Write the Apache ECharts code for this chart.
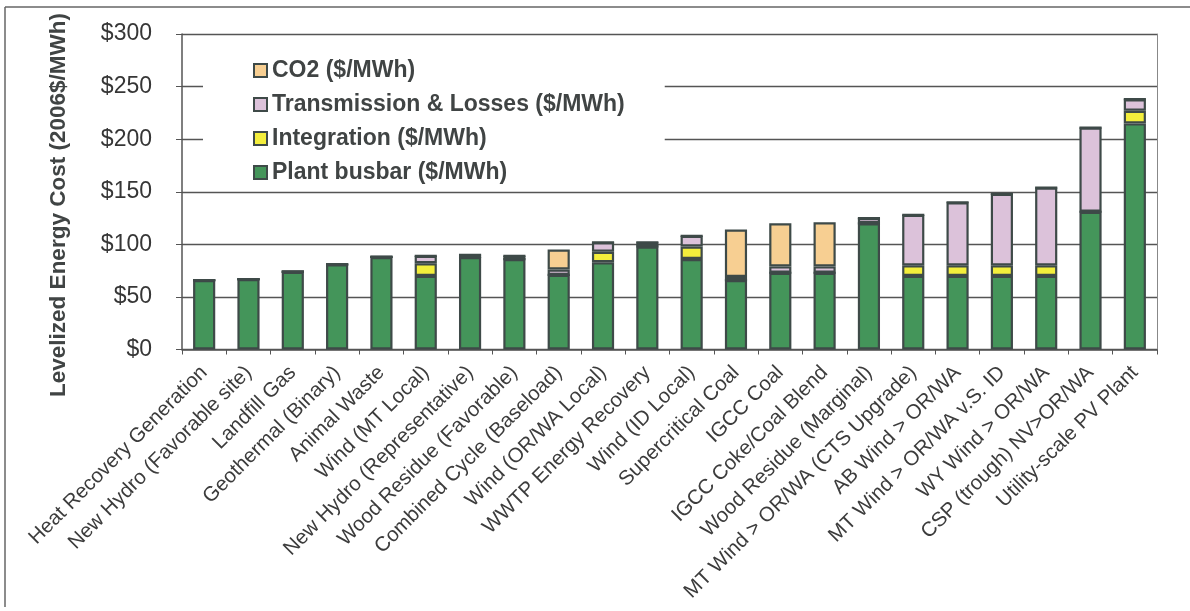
<!DOCTYPE html>
<html>
<head>
<meta charset="utf-8">
<script src="https://cdn.jsdelivr.net/npm/echarts@6/dist/echarts.min.js"></script>
<style>
html,body{margin:0;padding:0;background:#fff;}
#chart{width:1190px;height:611px;}
</style>
</head>
<body>
<div id="chart"></div>
<script>
var categories = [
  'Heat Recovery Generation',
  'New Hydro (Favorable site)',
  'Landfill Gas',
  'Geothermal (Binary)',
  'Animal Waste',
  'Wind (MT Local)',
  'New Hydro (Representative)',
  'Wood Residue (Favorable)',
  'Combined Cycle (Baseload)',
  'Wind (OR/WA Local)',
  'WWTP Energy Recovery',
  'Wind (ID Local)',
  'Supercritical Coal',
  'IGCC Coal',
  'IGCC Coke/Coal Blend',
  'Wood Residue (Marginal)',
  'MT Wind > OR/WA (CTS Upgrade)',
  'AB Wind > OR/WA',
  'MT Wind > OR/WA v.S. ID',
  'WY Wind > OR/WA',
  'CSP (trough) NV>OR/WA',
  'Utility-scale PV Plant'
];
var plantBusbar  = [66, 67, 74, 81, 88, 70, 88, 86, 71, 83, 98, 86, 66, 73, 73, 120, 70, 70, 70, 70, 131, 215];
var integration  = [0, 0, 0, 0, 0, 12, 0, 0, 0, 10, 0, 12, 0, 0, 0, 0, 10, 10, 10, 10, 0, 12];
var transmission = [0, 0, 0, 0, 0, 7, 2, 3, 5, 9, 4, 10, 3, 6, 6, 5, 48, 60, 68, 74, 80, 11];
var co2          = [0, 0, 0, 0, 0, 0, 0, 0, 19, 0, 0, 0, 45, 41, 42, 0, 0, 0, 0, 0, 0, 0];
var yTicks = [0, 50, 100, 150, 200, 250, 300];
var yTitle = 'Levelized Energy Cost (2006$/MWh)';

var seriesNames = ['Plant busbar ($/MWh)', 'Integration ($/MWh)', 'Transmission & Losses ($/MWh)', 'CO2 ($/MWh)'];
var seriesData = [plantBusbar, integration, transmission, co2];
var seriesColors = ['#44955a', '#f3ee3c', '#dcc2da', '#f7cf92'];

var chart = echarts.init(document.getElementById('chart'));
var series = seriesNames.map(function (n, i) {
  return {
    name: n,
    type: 'bar',
    stack: 'total',
    barWidth: '50%',
    data: seriesData[i],
    itemStyle: { color: seriesColors[i], borderColor: '#3e4a48', borderWidth: 2.2 },
    emphasis: { disabled: true }
  };
});

chart.setOption({
  animation: false,
  backgroundColor: '#ffffff',
  textStyle: { fontFamily: 'Liberation Sans, Arial, sans-serif' },
  grid: { left: 182, right: 33, top: 34, bottom: 261.5, containLabel: false },
  legend: {
    data: ['CO2 ($/MWh)', 'Transmission & Losses ($/MWh)', 'Integration ($/MWh)', 'Plant busbar ($/MWh)'],
    orient: 'vertical',
    left: 203,
    top: 53,
    padding: [6, 40, 4, 50],
    backgroundColor: '#ffffff',
    itemWidth: 13,
    itemHeight: 13,
    itemGap: 11,
    itemTextGap: 8,
    icon: 'rect',
    textStyle: { fontSize: 23, fontWeight: 'bold', color: '#404444', lineHeight: 23 }
  },
  xAxis: {
    type: 'category',
    data: categories,
    axisLine: { lineStyle: { color: '#555', width: 1.5 } },
    axisTick: { show: true, length: 5, lineStyle: { color: '#555' } },
    axisLabel: { rotate: 45, fontSize: 20.5, color: '#3c3c3c', margin: 20, interval: 0 }
  },
  yAxis: [{
    type: 'value',
    min: 0, max: 300, interval: 50,
    axisLine: { show: true, lineStyle: { color: '#555', width: 1.5 } },
    axisTick: { show: true, inside: false, length: 6, lineStyle: { color: '#555' } },
    axisLabel: {
      fontSize: 23, color: '#363636', margin: 30,
      formatter: function (v) { return yTicks.indexOf(v) >= 0 ? '$' + v : ''; }
    },
    splitLine: { show: true, lineStyle: { color: '#555', width: 1.3 } }
  }, {
    type: 'value',
    min: 0, max: 300, interval: 50,
    position: 'right',
    axisLine: { show: true, lineStyle: { color: '#888', width: 1 } },
    axisTick: { show: false },
    axisLabel: { show: false },
    splitLine: { show: false }
  }],
  series: series,
  graphic: [
    { type: 'line', shape: { x1: 5, y1: 7, x2: 1190, y2: 7 }, style: { stroke: '#666', lineWidth: 1.5 }, silent: true },
    { type: 'line', shape: { x1: 5, y1: 7, x2: 5, y2: 607 }, style: { stroke: '#666', lineWidth: 1.5 }, silent: true },
    {
      type: 'text', x: 59, y: 205, rotation: Math.PI / 2, silent: true,
      style: { text: yTitle, fontSize: 22.5, fontWeight: 'bold', fill: '#404444',
               fontFamily: 'Liberation Sans, Arial, sans-serif', align: 'center', verticalAlign: 'middle' }
    }
  ]
});
</script>
</body>
</html>
